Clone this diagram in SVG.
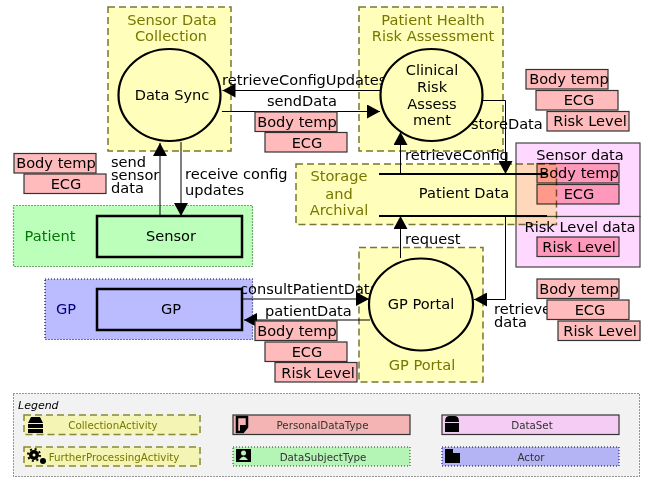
<svg xmlns="http://www.w3.org/2000/svg" width="645" height="478" viewBox="0 0 645 478">
<style>
text{font-family:"DejaVu Sans",sans-serif;font-size:14.600px;fill:#000}
.m{text-anchor:middle}
.act{fill:#ffffbb;stroke:#777733;stroke-width:1.5;stroke-dasharray:7 4}
.actT{fill:#777700;text-anchor:middle}
.circ{fill:#ffffbb;stroke:#000;stroke-width:2.2}
.tok{fill:#ffbbbb;stroke:#333;stroke-width:1.2}
.tokIn{fill:#ff99bb;stroke:#333;stroke-width:1.2}
.ds{fill:#ffd8ff;stroke:#444;stroke-width:1.2}
.ext{stroke-width:1.2;stroke-dasharray:1 2}
.box{stroke:#000;stroke-width:2.5}
.ln{fill:none;stroke:#000;stroke-width:1}
.bar{stroke:#000;stroke-width:2}
.leg text{font-size:10.300px;text-anchor:middle}
</style>
<defs>
<marker id="a" markerUnits="userSpaceOnUse" markerWidth="14" markerHeight="14" refX="13" refY="7" orient="auto"><path d="M0 0L13 7L0 14Z" fill="#000"/></marker>
</defs>

<g id="dataset-sensor"><rect class="ds" x="516" y="143" width="124" height="73.500"/><text class="m" x="580" y="160">Sensor data</text></g>
<g id="dataset-risk"><rect class="ds" x="516" y="216.500" width="124" height="50.500"/><text class="m" x="580" y="232">Risk Level data</text></g>
<g id="dataset-tokens">
<rect class="tokIn" x="537" y="163.500" width="82" height="19.500"/><text class="m" x="579" y="178">Body temp</text>
<rect class="tokIn" x="537" y="184.500" width="82" height="19.500"/><text class="m" x="579" y="199">ECG</text>
<rect class="tokIn" x="537" y="237" width="82" height="19.500"/><text class="m" x="579" y="252">Risk Level</text>
</g>

<g id="sensor-data-collection"><rect class="act" x="108" y="7" width="123" height="144"/><text class="actT" x="172" y="25">Sensor Data</text><text class="actT" x="171" y="41">Collection</text></g>
<g id="patient-health"><rect class="act" x="359" y="7" width="144" height="144"/><text class="actT" x="433" y="25">Patient Health</text><text class="actT" x="433" y="41">Risk Assessment</text></g>
<g id="gp-portal-group"><rect class="act" x="359" y="247.500" width="124" height="134.500"/><text class="actT" x="422" y="370">GP Portal</text></g>
<g id="storage" style="mix-blend-mode:multiply"><rect class="act" x="296" y="164" width="260.500" height="60.500"/></g>
<g id="storage-label"><text class="actT" x="339" y="181">Storage</text><text class="actT" x="339" y="199">and</text><text class="actT" x="339" y="215">Archival</text></g>
<g id="patient-group"><rect class="ext" x="13.500" y="205.500" width="239" height="61" fill="#bbffbb" stroke="#005500"/><text x="50" y="241" class="m" style="fill:#007700">Patient</text></g>
<g id="gp-group"><rect class="ext" x="45" y="279" width="207.500" height="60.500" fill="#bbbbff" stroke="#000055"/><text x="66" y="314" class="m" style="fill:#000077">GP</text></g>

<g id="connectors">
<path class="ln" d="M160 216V143" marker-end="url(#a)"/>
<path class="ln" d="M181 142V216" marker-end="url(#a)"/>
<path class="ln" d="M380 90.500H222.500" marker-end="url(#a)"/>
<path class="ln" d="M222 111.500H380" marker-end="url(#a)"/>
<path class="ln" d="M483 100.500H505.500V174" marker-end="url(#a)"/>
<path class="ln" d="M400.500 174V132" marker-end="url(#a)"/>
<path class="ln" d="M400.500 258V216" marker-end="url(#a)"/>
<path class="ln" d="M505.500 216V299.500H474" marker-end="url(#a)"/>
<path class="ln" d="M243 299H369" marker-end="url(#a)"/>
<path class="ln" d="M370 320H244" marker-end="url(#a)"/>
<g>
<text x="222" y="85">retrieveConfigUpdates</text>
<text x="267" y="106">sendData</text>
<text x="471" y="129">storeData</text>
<text x="405" y="160">retrieveConfig</text>
<text x="111" y="167">send</text><text x="111" y="180">sensor</text><text x="111" y="193">data</text>
<text x="185" y="179">receive config</text><text x="185" y="195">updates</text>
<text x="405" y="244">request</text>
<text x="240" y="294">consultPatientData</text>
<text x="265" y="316">patientData</text>
<text x="494" y="314">retrieve</text><text x="494" y="327">data</text>
</g>
</g>

<g id="data-sync"><ellipse class="circ" cx="169.500" cy="95" rx="51" ry="46"/><text class="m" x="172" y="100">Data Sync</text></g>
<g id="clinical-risk"><ellipse class="circ" cx="431.500" cy="95" rx="51" ry="46"/><text class="m" x="432" y="75">Clinical</text><text class="m" x="432" y="92">Risk</text><text class="m" x="432" y="109">Assess</text><text class="m" x="432" y="125">ment</text></g>
<g id="gp-portal"><ellipse class="circ" cx="421" cy="304.500" rx="52" ry="46"/><text class="m" x="421" y="309">GP Portal</text></g>
<g id="patient-data"><path class="bar" d="M379 174H547M379 216H547"/><text class="m" x="464" y="198">Patient Data</text></g>
<g id="sensor"><rect class="box" x="97" y="216" width="145" height="41" fill="#bbffbb"/><text class="m" x="171" y="241">Sensor</text></g>
<g id="gp"><rect class="box" x="97" y="289" width="145" height="41" fill="#bbbbff"/><text class="m" x="171" y="314">GP</text></g>

<g id="tokens-sensor">
<rect class="tok" x="14" y="153.500" width="82" height="19.500"/><text class="m" x="56" y="168">Body temp</text>
<rect class="tok" x="24" y="174" width="82" height="19.500"/><text class="m" x="66" y="189">ECG</text>
</g>
<g id="tokens-send">
<rect class="tok" x="255" y="112" width="82" height="19.500"/><text class="m" x="297" y="127">Body temp</text>
<rect class="tok" x="265" y="132.500" width="82" height="19.500"/><text class="m" x="307" y="148">ECG</text>
</g>
<g id="tokens-store">
<rect class="tok" x="526" y="69.500" width="82" height="19.500"/><text class="m" x="569" y="84">Body temp</text>
<rect class="tok" x="536" y="90.500" width="82" height="19.500"/><text class="m" x="579" y="105">ECG</text>
<rect class="tok" x="547" y="111.500" width="82" height="19.500"/><text class="m" x="590" y="126">Risk Level</text>
</g>
<g id="tokens-retrieve">
<rect class="tok" x="537" y="279" width="82" height="19.500"/><text class="m" x="579" y="294">Body temp</text>
<rect class="tok" x="547" y="300" width="82" height="19.500"/><text class="m" x="590" y="315">ECG</text>
<rect class="tok" x="558" y="321" width="82" height="19.500"/><text class="m" x="600" y="336">Risk Level</text>
</g>
<g id="tokens-patient">
<rect class="tok" x="255" y="321" width="82" height="19.500"/><text class="m" x="297" y="336">Body temp</text>
<rect class="tok" x="265" y="342" width="82" height="19.500"/><text class="m" x="307" y="357">ECG</text>
<rect class="tok" x="275" y="362.500" width="82" height="19.500"/><text class="m" x="318" y="378">Risk Level</text>
</g>

<g id="legend" class="leg">
<rect x="13.500" y="393.500" width="626" height="83" fill="#f2f2f2" stroke="#333" stroke-width="1" stroke-dasharray="1 2"/>
<text x="18" y="409" style="text-anchor:start;font-style:italic;font-size:11px">Legend</text>
<g id="legend-collection"><rect x="24" y="415" width="176" height="19.500" fill="#f4f4b4" stroke="#888833" stroke-width="1.500" stroke-dasharray="7 4"/><path d="M31 417H40L43 423H28ZM28 424H43V428H28ZM28 429H43V433H28Z" fill="#000"/><text x="113" y="429" style="fill:#777700">CollectionActivity</text></g>
<g id="legend-further"><rect x="24" y="447" width="176" height="19" fill="#f4f4b4" stroke="#888833" stroke-width="1.500" stroke-dasharray="7 4"/><circle cx="34" cy="455" r="5" fill="#000"/><circle cx="34" cy="455" r="6" fill="none" stroke="#000" stroke-width="2" stroke-dasharray="2 2.700"/><circle cx="34" cy="455" r="1.500" fill="#f4f4b4"/><circle cx="43" cy="461" r="3" fill="#000"/><text x="114" y="461" style="fill:#777700">FurtherProcessingActivity</text></g>
<g id="legend-personal"><rect x="233" y="415" width="177" height="19.500" fill="#f4b4b4" stroke="#333" stroke-width="1.200"/><path d="M237 417H247V427L243 432H237Z" fill="none" stroke="#000" stroke-width="2.500"/><path d="M240 425H247L243 432H240Z" fill="#000"/><text x="322.500" y="429" style="fill:#333">PersonalDataType</text></g>
<g id="legend-subject"><rect x="233" y="447" width="177" height="19" fill="#b4f4b4" stroke="#005500" stroke-width="1" stroke-dasharray="1 2"/><rect x="236" y="449" width="15" height="13" fill="#000"/><circle cx="243.500" cy="453" r="2.500" fill="#b4f4b4"/><path d="M239 460Q243.500 453 248 460Z" fill="#b4f4b4"/><text x="323" y="461" style="fill:#333">DataSubjectType</text></g>
<g id="legend-dataset"><rect x="442" y="415" width="177" height="19.500" fill="#f4ccf4" stroke="#333" stroke-width="1.200"/><path d="M445 422Q445 416 449 416H455Q459 416 459 422ZM445 423H459V432H445Z" fill="#000"/><text x="532" y="429" style="fill:#333">DataSet</text></g>
<g id="legend-actor"><rect x="442" y="447" width="177" height="19" fill="#b4b4f4" stroke="#000055" stroke-width="1" stroke-dasharray="1 2"/><path d="M445 449H453V453H460V463H445Z" fill="#000"/><text x="531" y="461" style="fill:#333">Actor</text></g>
</g>
</svg>
